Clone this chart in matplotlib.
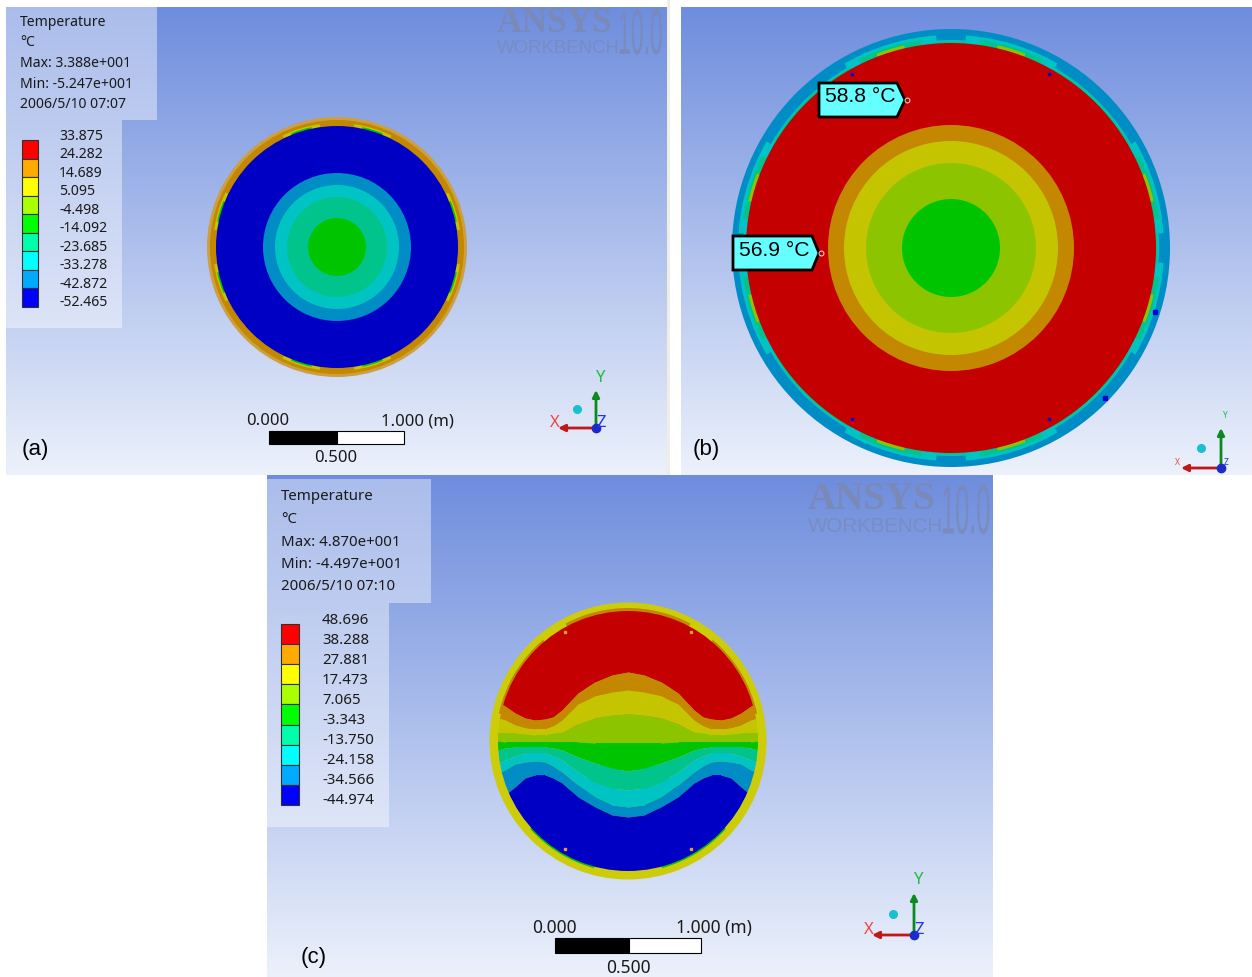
import numpy as np
import matplotlib
matplotlib.use("Agg")
import matplotlib.pyplot as plt
from matplotlib.patches import Circle, Wedge, Rectangle, Polygon
from matplotlib.patheffects import AbstractPathEffect
from matplotlib.transforms import Affine2D

plt.rcParams['font.family'] = ['Noto Sans', 'DejaVu Sans']

# contour band colours as drawn on the model (shaded) and in the legend (pure)
shaded = ["#c40000", "#c48800", "#c4c400", "#8cc400", "#00c400",
          "#00c48c", "#00c4c4", "#008cc4", "#0000c4"]
legend_cols = ["#ff0000", "#ffaa00", "#ffff00", "#aaff00", "#00ff00",
               "#00ffaa", "#00ffff", "#00aaff", "#0000ff"]

labels_a = ["33.875", "24.282", "14.689", "5.095", "-4.498",
            "-14.092", "-23.685", "-33.278", "-42.872", "-52.465"]
labels_c = ["48.696", "38.288", "27.881", "17.473", "7.065",
            "-3.343", "-13.750", "-24.158", "-34.566", "-44.974"]
info_a = ["Temperature", "°C", "Max: 3.388e+001", "Min: -5.247e+001", "2006/5/10 07:07"]
info_c = ["Temperature", "°C", "Max: 4.870e+001", "Min: -4.497e+001", "2006/5/10 07:10"]

# ring radii in pixels, panel a and b (outside to inside)
rings_a = [74, 62, 50, 29]
rings_a_cols = [7, 6, 5, 4]
rings_b = [123, 107, 85, 49]
rings_b_cols = [1, 2, 3, 4]

# the patches on the outer ring, degrees
patch_angles = [17, 73, 107, 163, 197, 253, 287, 343]

# panel c band boundaries: offset from centre and y of the lower edge of each band
band_x = [0, 16, 33, 50, 66, 75, 83, 93, 103, 113, 123, 130, 142]
red_low = [672, 675, 682, 693, 710, 717, 719, 720, 718, 713, 706, 702, 696]
orange_low = [690, 692, 696, 704, 720, 726, 729, 729, 728, 725, 720, 718, 715]
yellow_low = [714, 715, 718, 724, 732, 733, 735, 735, 734, 733, 733, 733, 733]
olive_low = [743, 743, 743, 742, 742, 742, 742, 742, 742, 742, 742, 741, 741]
green_low = [771, 768, 763, 757, 750, 748, 747, 747, 747, 747, 748, 750, 752]
teal_low = [790, 788, 782, 772, 760, 756, 753, 753, 753, 756, 760, 763, 767]
cyan_low = [807, 805, 797, 785, 772, 766, 762, 761, 762, 764, 770, 773, 778]
lblue_low = [817, 815, 807, 797, 783, 778, 775, 775, 778, 787, 795, 802, 810]


class Squeeze(AbstractPathEffect):
    # condensed lettering for the logo, no such font installed
    def __init__(self, sx):
        super().__init__()
        self.sx = sx

    def draw_path(self, renderer, gc, tpath, affine, rgbFace=None):
        renderer.draw_path(gc, tpath, Affine2D().scale(self.sx, 1) + affine, rgbFace)


def gradient(ax, x0, x1, y0, y1):
    top = np.array([110, 141, 221]) / 255
    bottom = np.array([236, 241, 251]) / 255
    t = np.linspace(0, 1, 512)[:, None, None]
    img = top + (bottom - top) * t
    ax.imshow(img, extent=(x0, x1, y1, y0), aspect="auto", zorder=0)


def legend(ax, x0, y0, w1, h1, w2, h2, info, labels, bar_x, bar_w, bar_top, bar_bot,
           lab_x, lab_top, lab_bot, info_top, info_bot, fs):
    ax.add_patch(Rectangle((x0, y0), w1, h1, fc="white", ec="none", alpha=0.42, zorder=1))
    ax.add_patch(Rectangle((x0, y0 + h1), w2, h2, fc="white", ec="none", alpha=0.42, zorder=1))
    for y, s in zip(np.linspace(info_top, info_bot, len(info)), info):
        ax.text(x0 + 14, y, s, fontsize=fs, va="center", color="#1a1a1a", zorder=5)
    edges = np.linspace(bar_top, bar_bot, len(legend_cols) + 1)
    for i, c in enumerate(legend_cols):
        ax.add_patch(Rectangle((bar_x, edges[i]), bar_w, edges[i + 1] - edges[i], fc=c,
                               ec="#303030", lw=0.8, zorder=5))
    ys = np.linspace(lab_top, lab_bot, len(labels))
    for y, s in zip(ys, labels):
        ax.text(lab_x, y, s, fontsize=fs, va="center", color="#1a1a1a", zorder=5)


def watermark(ax, x, y, k):
    col = "#7a89b8"
    ax.text(x, y + 23 * k, "ANSYS", fontsize=25.5 * k, family="Liberation Serif", weight="bold",
            color=col, va="baseline", zorder=2)
    ax.text(x, y + 44 * k, "WORKBENCH", fontsize=13.4 * k, family="Liberation Sans",
            color=col, alpha=0.75, va="baseline", zorder=2)
    t = ax.text(x + 121 * k, y + 45 * k, "10.0", fontsize=46 * k, family="Liberation Sans",
                color=col, alpha=0.85, va="baseline", zorder=2)
    t.set_path_effects([Squeeze(0.36)])


def scale_bar(ax, x0, xm, x1, y0, y1, lab_y, mid_y, fs):
    ax.add_patch(Rectangle((x0, y0), xm - x0, y1 - y0, fc="black", ec="black", lw=0.8, zorder=5))
    ax.add_patch(Rectangle((xm, y0), x1 - xm, y1 - y0, fc="white", ec="black", lw=0.8, zorder=5))
    ax.text(x0 - 1, lab_y, "0.000", fontsize=fs, ha="center", va="center", color="#1a1a1a", zorder=5)
    ax.text(x1 + 13, lab_y, "1.000 (m)", fontsize=fs, ha="center", va="center", color="#1a1a1a", zorder=5)
    ax.text(xm - 1, mid_y, "0.500", fontsize=fs, ha="center", va="center", color="#1a1a1a", zorder=5)


def triad(ax, x, y, size, fs):
    ax.annotate("", xy=(x, y - size), xytext=(x, y), zorder=6,
                arrowprops=dict(arrowstyle="-|>", color="#0c8a1e", lw=2, shrinkA=0, shrinkB=0))
    ax.annotate("", xy=(x - size, y), xytext=(x, y), zorder=6,
                arrowprops=dict(arrowstyle="-|>", color="#c01818", lw=2, shrinkA=0, shrinkB=0))
    ax.plot([x], [y], "o", ms=6, color="#1c2ac8", zorder=7)
    ax.plot([x - size * 0.49], [y - size * 0.49], "o", ms=5.5, color="#18c0d0", zorder=7)
    off = size * 0.13
    ax.text(x + off * 0.9, y - size * 1.32, "Y", color="#22bb44", fontsize=fs, ha="center", va="center", zorder=7)
    ax.text(x - size * 1.08, y - off, "X", color="#ee4444", fontsize=fs, ha="center", va="center", zorder=7)
    ax.text(x + off, y - off, "Z", color="#2233ee", fontsize=fs, ha="center", va="center", zorder=7)


def callout(ax, x0, x1, tip, y0, y1, s):
    ymid = (y0 + y1) / 2
    ax.add_patch(Polygon([(x0, y0), (x1, y0), (tip, ymid), (x1, y1), (x0, y1)], closed=True,
                         fc="#66ffff", ec="black", lw=2, zorder=8))
    ax.text(x0 + 6, ymid - 3, s, fontsize=15.2, family="Liberation Sans", va="center", color="black", zorder=9)
    ax.plot([tip + 2], [ymid], "o", ms=3.5, mfc="none", mec="#ffdddd", mew=0.7, zorder=9)


fig = plt.figure(figsize=(12.52, 9.77), dpi=100, facecolor="white")
ax = fig.add_axes([0, 0, 1, 1])

gradient(ax, 6, 667, 7, 475)
gradient(ax, 681, 1252, 7, 475)
gradient(ax, 267, 993, 475, 977)
ax.add_patch(Rectangle((667, 0), 3, 475, fc="#f0eee2", ec="none", zorder=0))

# panel a
cx, cy = 337, 247
ax.add_patch(Circle((cx, cy), 130, fc="#cc9f40", ec="none", zorder=2))
ax.add_patch(Circle((cx, cy), 127, fc=shaded[1], ec="none", zorder=2))
for ang in patch_angles:
    ax.add_patch(Wedge((cx, cy), 124, ang - 9, ang + 9, fc=shaded[2], ec="none", zorder=2))
    ax.add_patch(Wedge((cx, cy), 122.5, ang - 5, ang + 5, fc=shaded[4], ec="none", zorder=2))
ax.add_patch(Circle((cx, cy), 121, fc=shaded[8], ec="none", zorder=3))
for r, c in zip(rings_a, rings_a_cols):
    ax.add_patch(Circle((cx, cy), r, fc=shaded[c], ec="none", zorder=3))

# panel b
cx, cy = 951, 248
ax.add_patch(Circle((cx, cy), 219, fc=shaded[7], ec="none", zorder=2))
ax.add_patch(Circle((cx, cy), 208, fc=shaded[6], ec="none", zorder=2))
ax.add_patch(Circle((cx, cy), 206.5, fc=shaded[5], ec="none", zorder=2))
for ang in patch_angles:
    ax.add_patch(Wedge((cx, cy), 213, ang - 13, ang + 13, fc=shaded[6], ec="none", zorder=2))
    ax.add_patch(Wedge((cx, cy), 210, ang - 9, ang + 9, fc=shaded[5], ec="none", zorder=2))
    ax.add_patch(Wedge((cx, cy), 208, ang - 4, ang + 4, fc=shaded[3], ec="none", zorder=2))
ax.add_patch(Circle((cx, cy), 205, fc=shaded[0], ec="none", zorder=3))
for r, c in zip(rings_b, rings_b_cols):
    ax.add_patch(Circle((cx, cy), r, fc=shaded[c], ec="none", zorder=3))
ax.plot([852, 1049, 852, 1049], [74, 74, 419, 419], "s", ms=2, color="#0000d0", zorder=4)
ax.plot([1105, 1155], [398, 312], "s", ms=3, color="#0000d0", zorder=4)
callout(ax, 819, 897, 905, 83, 117, "58.8 °C")
callout(ax, 733, 812, 819, 236, 270, "56.9 °C")

# panel c, y axis points down so the wedge angles run the other way
cx, cy = 628, 741
ax.add_patch(Circle((cx, cy), 138.5, fc="#cccc0a", ec="none", zorder=2))
ax.add_patch(Wedge((cx, cy), 133, 242, 298, fc=shaded[1], ec="none", zorder=2))
ax.add_patch(Wedge((cx, cy), 132, 192, 230, fc=shaded[1], ec="none", zorder=2))
ax.add_patch(Wedge((cx, cy), 132, 310, 348, fc=shaded[1], ec="none", zorder=2))
ax.add_patch(Wedge((cx, cy), 131.5, 105, 138, fc=shaded[4], ec="none", zorder=2))
ax.add_patch(Wedge((cx, cy), 131.5, 42, 75, fc=shaded[4], ec="none", zorder=2))
clip = Circle((cx, cy), 130, transform=ax.transData)
xs = np.concatenate([cx - np.array(band_x[::-1]), cx + np.array(band_x[1:])])


def mirror(v):
    return np.concatenate([v[::-1], v[1:]])


bounds = [np.full(xs.shape, 600)]
for b in [red_low, orange_low, yellow_low, olive_low, green_low, teal_low, cyan_low, lblue_low]:
    bounds.append(mirror(b))
bounds.append(np.full(xs.shape, 880))
for i in range(9):
    poly = ax.fill_between(xs, bounds[i], bounds[i + 1], color=shaded[i], lw=0, zorder=3)
    poly.set_clip_path(clip)
ax.plot([565, 691, 565, 691], [632, 632, 849, 849], "s", ms=1.5, color="#e0a030", zorder=4)

legend(ax, 6, 7, 151, 113, 116, 208, info_a, labels_a, 22, 16, 140, 307, 59, 136, 303, 22, 105, 10.1)
legend(ax, 267, 479, 164, 124, 122, 224, info_c, labels_c, 281, 18, 624, 805, 322, 621, 801, 497, 587, 10.8)
watermark(ax, 497, 9, 1.0)
watermark(ax, 808, 484, 1.1)
scale_bar(ax, 269, 337, 404, 431, 444, 421, 458, 12)
scale_bar(ax, 555, 629, 701, 938, 953, 928, 968, 12.5)
triad(ax, 596, 428, 38, 12)
triad(ax, 1221, 468, 40, 6)
triad(ax, 914, 935, 42, 12)

for x, y, s in [(22, 450, "(a)"), (693, 450, "(b)"), (301, 957, "(c)")]:
    ax.text(x, y, s, fontsize=16, family="Liberation Sans", va="center", color="black", zorder=9)

ax.set_xlim(0, 1252)
ax.set_ylim(977, 0)
ax.axis("off")
fig.savefig("out.png", dpi=100)
